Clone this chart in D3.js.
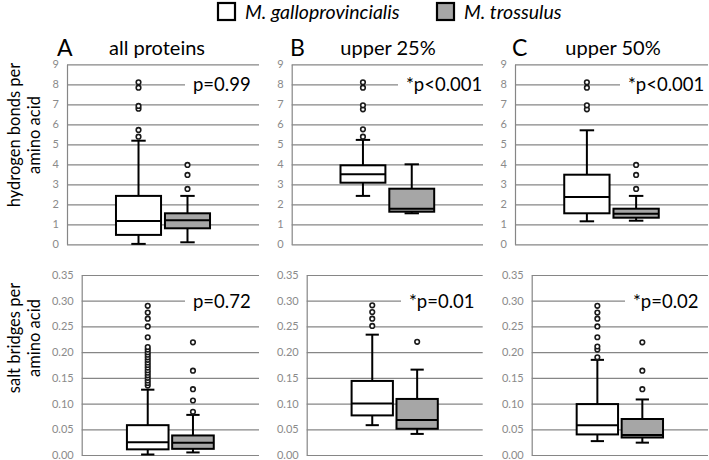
<!DOCTYPE html>
<html><head><meta charset="utf-8">
<script src="https://cdn.jsdelivr.net/npm/d3@7"></script>
<style>body{margin:0;background:#fff}svg{display:block}text{font-family:Lato,"Open Sans",sans-serif}</style>
</head><body>
<script>
// ---------- data ----------
const species = ["M. galloprovincialis", "M. trossulus"];
const panelLetters = ["A", "B", "C"];
const panelTitles = ["all proteins", "upper 25%", "upper 50%"];
const hbTicks = [0, 1, 2, 3, 4, 5, 6, 7, 8, 9];
const sbTicks = [0, 0.05, 0.10, 0.15, 0.20, 0.25, 0.30, 0.35];
const hbTitle = ["hydrogen bonds per", "amino acid"];
const sbTitle = ["salt bridges per", "amino acid"];
const hbPvalues = ["p=0.99", "*p<0.001", "*p<0.001"];
const sbPvalues = ["p=0.72", "*p=0.01", "*p=0.02"];
// [whisker low, Q1, median, Q3, whisker high]
const hbGallo = [[0.02, 0.47, 1.17, 2.42, 5.18], [2.42, 3.08, 3.5, 3.95, 5.22], [1.15, 1.55, 2.37, 3.48, 5.7]];
const hbTross = [[0.1, 0.8, 1.2, 1.55, 2.42], [1.55, 1.63, 1.78, 2.78, 4.0], [1.18, 1.33, 1.53, 1.78, 2.42]];
const hbGalloOut = [[5.38, 5.72, 6.78, 6.92, 7.83, 8.1], [5.38, 5.75, 6.75, 6.95, 7.83, 8.1], [6.75, 6.95, 7.83, 8.1]];
const hbTrossOut = [[2.77, 3.47, 3.97], [], [2.77, 3.47, 3.97]];
const sbGallo = [[0.001, 0.011, 0.025, 0.058, 0.127], [0.058, 0.077, 0.100, 0.144, 0.234], [0.027, 0.040, 0.058, 0.099, 0.185]];
const sbTross = [[0.005, 0.012, 0.024, 0.038, 0.078], [0.041, 0.051, 0.068, 0.109, 0.166], [0.024, 0.034, 0.039, 0.070, 0.108]];
const sbGalloOut = [
  [0.135, 0.14, 0.145, 0.15, 0.155, 0.16, 0.165, 0.17, 0.175, 0.18, 0.185, 0.19, 0.195, 0.2, 0.205, 0.21, 0.229, 0.25, 0.265, 0.277, 0.29],
  [0.251, 0.265, 0.278, 0.291],
  [0.19, 0.205, 0.211, 0.229, 0.25, 0.265, 0.277, 0.29]];
const sbTrossOut = [[0.084, 0.106, 0.128, 0.164, 0.219], [0.22], [0.128, 0.164, 0.219]];

// ---------- layout ----------
const W = 709, H = 460;
const fills = ["#ffffff", "#a6a6a6"];
const rows = [
  {y: [244.3, 64.3], domain: [0, 9], ticks: hbTicks, fmt: d3.format("d"), xs: [[67, 259], [291.7, 483], [515, 708]],
   stats: [hbGallo, hbTross], outs: [hbGalloOut, hbTrossOut], p: hbPvalues, pAt: 8, pX: [193, 406, 628],
   title: hbTitle, titleY: 135},
  {y: [455, 275], domain: [0, 0.35], ticks: sbTicks, fmt: d3.format(".2f"), xs: [[81.7, 259], [306.7, 482.7], [531.7, 708]],
   stats: [sbGallo, sbTross], outs: [sbGalloOut, sbTrossOut], p: sbPvalues, pAt: 0.30, pX: [193, 409, 633],
   title: sbTitle, titleY: 338}
];

const svg = d3.select("body").append("svg").attr("width", W).attr("height", H);

// legend
const leg = svg.append("g");
const legX = [218, 437], legTX = [245, 464];
species.forEach((s, i) => {
  leg.append("rect").attr("x", legX[i]).attr("y", 3).attr("width", 17).attr("height", 17)
    .attr("fill", fills[i]).attr("stroke", "#000").attr("stroke-width", 2.2);
  leg.append("text").attr("x", legTX[i]).attr("y", 19).attr("font-size", 19.5)
    .attr("font-style", "italic").text(s);
});

// panel letters and titles
const letterX = [57, 290, 512], titleX = [157, 388, 613];
panelLetters.forEach((l, i) => {
  svg.append("text").attr("x", letterX[i]).attr("y", 56).attr("font-size", 23).text(l);
  svg.append("text").attr("x", titleX[i]).attr("y", 55).attr("font-size", 20)
    .attr("text-anchor", "middle").text(panelTitles[i]);
});

rows.forEach(row => {
  // row title
  const t = svg.append("text").attr("transform", `translate(0,${row.titleY}) rotate(-90)`)
    .attr("text-anchor", "middle").attr("font-size", 16.5);
  t.append("tspan").attr("x", 0).attr("y", 20).text(row.title[0]);
  t.append("tspan").attr("x", 0).attr("y", 40).text(row.title[1]);

  row.xs.forEach((xr, pi) => {
    const y = d3.scaleLinear().domain(row.domain).range(row.y);
    const x = d3.scaleBand().domain(species).range(xr).paddingInner(0.08).paddingOuter(1.0);
    const g = svg.append("g");
    const ax = g.append("g").attr("transform", `translate(${xr[0]},0)`)
      .call(d3.axisLeft(y).tickValues(row.ticks).tickFormat(row.fmt)
        .tickSizeInner(-(xr[1] - xr[0])).tickSizeOuter(0).tickPadding(8));
    ax.selectAll(".tick line").attr("stroke", "#868686").attr("stroke-width", 1.2);
    ax.select(".domain").attr("stroke", "#868686").attr("stroke-width", 1.2);
    ax.selectAll(".tick text").attr("fill", "#8a8a8a").attr("font-size", 11)
      .style("font-family", "Lato, sans-serif");

    // p-value label covering the grid line
    const py = y(row.pAt);
    g.append("rect").attr("x", row.pX[pi] - 8).attr("y", py - 9).attr("width", xr[1] - row.pX[pi] + 9)
      .attr("height", 18).attr("fill", "#fff");
    g.append("text").attr("x", row.pX[pi]).attr("y", py + 7).attr("font-size", 18.5).text(row.p[pi]);

    species.forEach((s, si) => {
      const st = row.stats[si][pi];
      const bw = x.bandwidth(), cx = x(s) + bw / 2, cap = bw * 0.32;
      const bg = g.append("g").attr("stroke", "#000").attr("stroke-width", 2);
      bg.append("line").attr("x1", cx).attr("x2", cx).attr("y1", y(st[0])).attr("y2", y(st[4]));
      [st[0], st[4]].forEach(v => bg.append("line").attr("x1", cx - cap / 2).attr("x2", cx + cap / 2)
        .attr("y1", y(v)).attr("y2", y(v)));
      bg.append("rect").attr("x", x(s)).attr("width", bw).attr("y", y(st[3]))
        .attr("height", y(st[1]) - y(st[3])).attr("fill", fills[si]);
      bg.append("line").attr("x1", x(s)).attr("x2", x(s) + bw).attr("y1", y(st[2])).attr("y2", y(st[2]));
      g.append("g").selectAll("circle").data(row.outs[si][pi]).join("circle")
        .attr("cx", cx).attr("cy", d => y(d)).attr("r", 2.3)
        .attr("fill", "#fff").attr("stroke", "#1a1a1a").attr("stroke-width", 1.6);
    });
  });
});
</script>
</body></html>
